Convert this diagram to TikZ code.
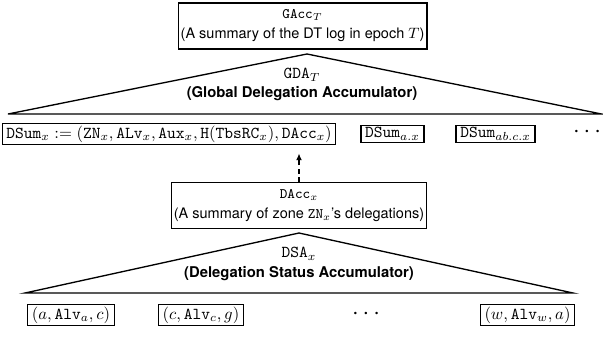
\documentclass[tikz,border=0pt]{standalone}
\usepackage{fontspec}
\setsansfont{TeX Gyre Heros}
\usetikzlibrary{arrows.meta}
\begin{document}
\begin{tikzpicture}[x=0.6pt,y=-0.6pt,
  box/.style={draw,line width=0.8pt,inner xsep=1.5pt,inner ysep=0pt,align=center,
    font=\sffamily\fontsize{8.7}{12}\selectfont,minimum height=27.6pt},
  sbox/.style={draw,line width=0.8pt,inner xsep=2.5pt,inner ysep=1.3pt},
  tri/.style={line width=0.8pt,line join=miter},
  blab/.style={font=\sffamily\bfseries\fontsize{8.9}{11}\selectfont,inner sep=0pt},
  mlab/.style={inner sep=0pt},
  dotsn/.style={inner sep=0pt,font=\Large},
  conn/.style={densely dashed,line width=0.7pt,-{Latex[length=4pt,width=3.5pt]}}]
\useasboundingbox (0,0) rectangle (603,341);
% top
\node[box] (gacc) at (302.5,26)
  {\texttt{GAcc}$_T$\\(A summary of the DT log in epoch $T$)};
\coordinate (gapex) at (307,54);
\coordinate (gl) at (8,114);
\coordinate (gr) at (601.5,114);
\draw[tri] (gl) -- (gapex) -- (gr) -- cycle;
\node[mlab] (gda) at (302,75) {$\texttt{GDA}_T$};
\node[blab] (gdal) at (302,94) {(Global Delegation Accumulator)};
% DSum row
\node[sbox] (dsx) at (169,134)
  {$\texttt{DSum}_x := (\texttt{ZN}_x, \texttt{ALv}_x, \texttt{Aux}_x, \texttt{H}(\texttt{TbsRC}_x), \texttt{DAcc}_x)$};
\node[sbox] (dsa) at (392.5,134) {$\texttt{DSum}_{a.x}$};
\node[sbox] (dsb) at (495.5,134) {$\texttt{DSum}_{ab.c.x}$};
\node[dotsn] (d1) at (587,132) {$\cdots$};
% DAcc
\node[box] (dacc) at (299,205.5)
  {\texttt{DAcc}$_x$\\(A summary of zone $\texttt{ZN}_x$'s delegations)};
\draw[conn,shorten >=5pt] (dacc.north) -- (dacc.north |- dsx.south);
% lower triangle
\coordinate (dapex) at (299,233);
\coordinate (dl) at (25,293);
\coordinate (dr) at (573,293);
\draw[tri] (dl) -- (dapex) -- (dr) -- cycle;
\node[mlab] (dsa) at (299,254) {$\texttt{DSA}_x$};
\node[blab] (dsal) at (299,274) {(Delegation Status Accumulator)};
% bottom row
\node[sbox] (b1) at (71,315) {$(a, \texttt{Alv}_a, c)$};
\node[sbox] (b2) at (201,315) {$(c, \texttt{Alv}_c, g)$};
\node[dotsn] (d2) at (366,314) {$\cdots$};
\node[sbox] (b3) at (527.5,315) {$(w, \texttt{Alv}_w, a)$};
\end{tikzpicture}
\end{document}
